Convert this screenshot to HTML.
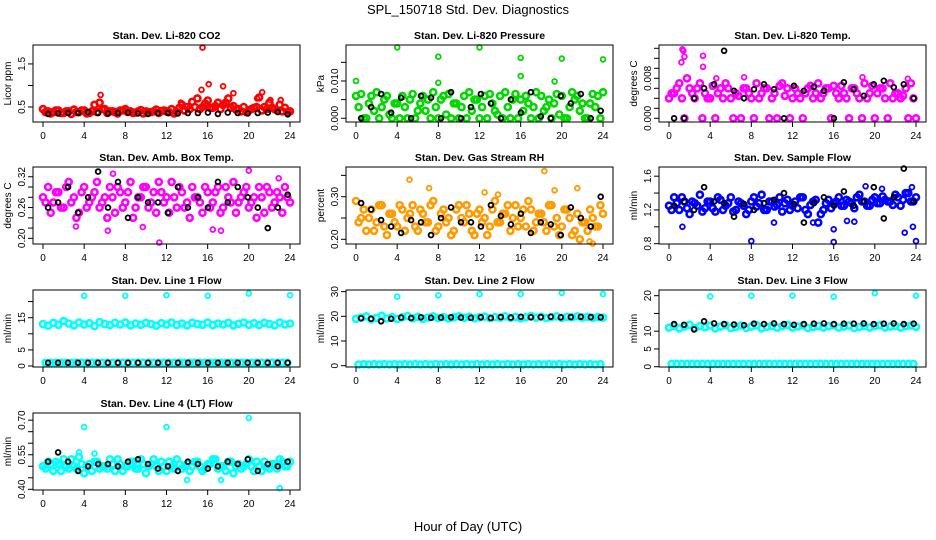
<!DOCTYPE html>
<html><head><meta charset="utf-8"><style>
body{margin:0;background:#fff}
svg{display:block;font-family:"Liberation Sans",sans-serif}
</style></head><body>
<svg id="c" width="936" height="540" viewBox="0 0 936 540">
<text x="468" y="14" text-anchor="middle" font-size="13">SPL_150718  Std. Dev. Diagnostics</text>
<text x="468" y="531" text-anchor="middle" font-size="13">Hour of Day (UTC)</text>
</svg>
<script>
const titles=["Stan. Dev. Li-820 CO2","Stan. Dev. Li-820 Pressure","Stan. Dev. Li-820 Temp.","Stan. Dev. Amb. Box Temp.","Stan. Dev. Gas Stream RH","Stan. Dev. Sample Flow","Stan. Dev. Line 1 Flow","Stan. Dev. Line 2 Flow","Stan. Dev. Line 3 Flow","Stan. Dev. Line 4 (LT) Flow"];
const yTitles=["Licor ppm","kPa","degrees C","degrees C","percent","ml/min","ml/min","ml/min","ml/min","ml/min"];
const colors=["#ff0000","#00d800","#ff00ff","#ff00ff","#ff9a00","#0000ff","#00ffff","#00ffff","#00ffff","#00ffff"];
const yDomains=[[0.151,1.94],[-0.001,0.01965],[-0.00074,0.01466],[0.189,0.339],[0.189,0.3697],[0.796,1.709],[-0.31,23.6],[-0.53,30.66],[-0.08,21.6],[0.397,0.7311]];
const yTicks=[[0.5,1.0,1.5],[0,0.005,0.01,0.015],[0,0.002,0.004,0.006,0.008,0.01,0.012,0.014],[0.20,0.22,0.24,0.26,0.28,0.30,0.32],[0.20,0.25,0.30,0.35],[0.8,1.0,1.2,1.4,1.6],[0,5,10,15,20],[0,10,20,30],[0,5,10,15,20],[0.40,0.45,0.50,0.55,0.60,0.65,0.70]];
const yTickLabels=[["0.5","","1.5"],["0.000","","0.010",""],["0.000","","","","0.008","","",""],["0.20","","","0.26","","","0.32"],["0.20","","0.30",""],["0.8","","1.2","","1.6"],["0","5","","15",""],["0","10","20","30"],["0","5","10","","20"],["0.40","","","0.55","","","0.70"]];
const xTicks=[0,4,8,12,16,20,24];
// main series (half-hourly, hour = i*0.5)
const mainA=[
[0.45,0.4,0.38,0.42,0.36,0.4,0.44,0.38,0.42,0.36,0.55,0.6,0.45,0.4,0.38,0.42,0.45,0.4,0.37,0.43,0.4,0.38,0.44,0.41,0.4,0.45,0.38,0.55,0.5,0.62,0.7,0.5,0.65,0.48,0.6,0.55,0.7,0.52,0.45,0.5,0.42,0.48,0.72,0.5,0.6,0.45,0.55,0.48,0.4],
[0.006,0.0065,0.0,0.006,0.007,0.003,0.006,0.0,0.004,0.006,0.0,0.0065,0.002,0.006,0.005,0.007,0.0,0.006,0.0065,0.004,0.0,0.006,0.007,0.005,0.0,0.006,0.0065,0.002,0.006,0.007,0.0,0.0065,0.005,0.006,0.0,0.007,0.006,0.003,0.0,0.0065,0.006,0.0,0.007,0.006,0.004,0.0,0.0065,0.006,0.007],
[0.004,0.005,0.007,0.0,0.006,0.004,0.007,0.005,0.004,0.0,0.006,0.007,0.004,0.005,0.0,0.006,0.004,0.007,0.005,0.006,0.004,0.0,0.007,0.006,0.004,0.005,0.0,0.006,0.004,0.007,0.005,0.006,0.0065,0.004,0.005,0.0,0.006,0.004,0.007,0.005,0.0,0.006,0.004,0.007,0.005,0.004,0.006,0.007,0.0],
[0.28,0.3,0.27,0.29,0.26,0.31,0.28,0.25,0.3,0.27,0.29,0.26,0.28,0.3,0.25,0.29,0.27,0.31,0.26,0.28,0.3,0.27,0.25,0.29,0.28,0.31,0.26,0.29,0.27,0.3,0.28,0.25,0.29,0.27,0.3,0.26,0.28,0.31,0.27,0.29,0.26,0.28,0.3,0.25,0.29,0.27,0.28,0.3,0.27],
[0.29,0.25,0.22,0.27,0.24,0.28,0.21,0.26,0.23,0.27,0.25,0.28,0.22,0.26,0.24,0.29,0.23,0.27,0.25,0.22,0.28,0.24,0.26,0.21,0.27,0.25,0.23,0.29,0.24,0.26,0.22,0.28,0.25,0.23,0.27,0.24,0.26,0.22,0.28,0.25,0.23,0.27,0.21,0.26,0.24,0.22,0.25,0.23,0.26],
[1.25,1.35,1.2,1.3,1.15,1.28,1.38,1.22,1.3,1.18,1.32,1.25,1.35,1.2,1.28,1.15,1.3,1.24,1.38,1.2,1.3,1.26,1.18,1.32,1.25,1.22,1.35,1.15,1.3,1.05,1.2,1.32,1.28,1.35,1.25,1.3,1.22,1.38,1.3,1.25,1.35,1.28,1.32,1.3,1.38,1.25,1.4,1.3,1.35],
[13,12.5,13.4,12.8,14,13.2,12.6,13.5,12.9,13.3,12.4,13.6,13,12.7,13.4,12.9,13.5,12.6,13.2,12.8,13.4,13,12.5,13.3,12.9,13.5,12.7,13.2,12.6,13.4,13,12.8,13.5,12.7,13.2,12.9,13.4,12.6,13.1,13.5,12.8,13.3,12.7,13.4,13,12.6,13.5,12.9,13.2],
[19,19.5,20,18.8,19.4,20.2,19.1,19.7,18.9,19.6,20.1,19.2,19.8,19,19.5,20,19.3,19.7,19.1,19.6,20,19.4,19.8,19.2,19.6,19.9,19.3,19.7,19.5,20,19.4,19.8,19.2,19.6,20.1,19.5,19.8,19.3,19.7,20,19.4,19.8,19.6,20,19.5,19.8,19.4,19.7,19.5],
[11,11.5,10.8,11.3,11.8,10.9,11.4,11.1,11.6,10.8,11.3,11.7,10.9,11.2,11.6,10.9,11.3,11.7,10.8,11.2,11.5,11,11.4,11.8,11,11.3,11.6,10.9,11.2,11.5,11,11.4,11.7,11,11.3,11.6,10.9,11.2,11.5,11,11.4,11.7,11,11.3,11.5,11,11.4,11.6,11.2],
[0.5,0.52,0.48,0.51,0.53,0.49,0.5,0.54,0.47,0.51,0.52,0.49,0.5,0.53,0.48,0.51,0.5,0.52,0.49,0.53,0.47,0.51,0.5,0.52,0.48,0.5,0.53,0.49,0.51,0.5,0.52,0.48,0.51,0.53,0.49,0.5,0.52,0.47,0.51,0.5,0.53,0.48,0.5,0.52,0.49,0.51,0.53,0.5,0.52]];
// second main series (hour = 0.25 + i*0.5)
const mainB=[
[0.38,0.35,0.42,0.36,0.4,0.34,0.38,0.42,0.35,0.4,0.38,0.45,0.36,0.4,0.35,0.42,0.38,0.36,0.4,0.35,0.38,0.4,0.36,0.42,0.38,0.35,0.48,0.42,0.45,0.5,0.45,0.58,0.48,0.52,0.45,0.6,0.48,0.44,0.4,0.38,0.45,0.5,0.42,0.45,0.48,0.42,0.4,0.38],
[0.003,0.0,0.004,0.002,0.0,0.005,0.001,0.004,0.0,0.003,0.005,0.0,0.004,0.002,0.0,0.003,0.005,0.001,0.0,0.004,0.003,0.0,0.002,0.005,0.003,0.0,0.004,0.001,0.0,0.003,0.005,0.0,0.002,0.004,0.003,0.0,0.002,0.005,0.004,0.001,0.0,0.003,0.005,0.002,0.0,0.004,0.003,0.0],
[0.005,0.006,0.004,0.008,0.005,0.006,0.0,0.004,0.0065,0.005,0.004,0.006,0.0,0.0045,0.006,0.005,0.0,0.004,0.006,0.0,0.005,0.0065,0.0045,0.0,0.006,0.004,0.005,0.0065,0.005,0.004,0.006,0.0,0.005,0.0065,0.004,0.006,0.005,0.0,0.004,0.0065,0.005,0.006,0.0,0.004,0.005,0.0045,0.0,0.004],
[0.27,0.25,0.29,0.26,0.3,0.27,0.24,0.29,0.26,0.28,0.31,0.27,0.24,0.28,0.3,0.26,0.29,0.24,0.28,0.3,0.26,0.29,0.31,0.27,0.25,0.28,0.3,0.26,0.24,0.28,0.27,0.3,0.26,0.29,0.25,0.3,0.27,0.25,0.28,0.3,0.27,0.24,0.28,0.3,0.26,0.29,0.25,0.28],
[0.24,0.27,0.25,0.22,0.28,0.23,0.26,0.24,0.28,0.22,0.26,0.23,0.27,0.24,0.28,0.22,0.26,0.24,0.21,0.27,0.25,0.28,0.22,0.26,0.24,0.21,0.27,0.24,0.26,0.28,0.25,0.23,0.27,0.29,0.22,0.26,0.24,0.28,0.23,0.21,0.27,0.25,0.22,0.2,0.24,0.27,0.23,0.28],
[1.2,1.28,1.35,1.22,1.3,1.25,1.18,1.3,1.22,1.35,1.2,1.28,1.18,1.3,1.25,1.2,1.35,1.28,1.2,1.3,1.24,1.35,1.28,1.2,1.3,1.35,1.2,1.26,1.32,1.15,1.28,1.22,1.3,1.25,1.32,1.28,1.35,1.3,1.25,1.32,1.28,1.36,1.3,1.26,1.35,1.32,1.4,1.3],
[1,1,1,1,1,1,1,1,1,1,1,1,1,1,1,1,1,1,1,1,1,1,1,1,1,1,1,1,1,1,1,1,1,1,1,1,1,1,1,1,1,1,1,1,1,1,1,1],
[0.5,0.6,0.5,0.6,0.5,0.6,0.5,0.6,0.5,0.6,0.5,0.6,0.5,0.6,0.5,0.6,0.5,0.6,0.5,0.6,0.5,0.6,0.5,0.6,0.5,0.6,0.5,0.6,0.5,0.6,0.5,0.6,0.5,0.6,0.5,0.6,0.5,0.6,0.5,0.6,0.5,0.6,0.5,0.6,0.5,0.6,0.5,0.6],
[0.8,0.8,0.8,0.8,0.8,0.8,0.8,0.8,0.8,0.8,0.8,0.8,0.8,0.8,0.8,0.8,0.8,0.8,0.8,0.8,0.8,0.8,0.8,0.8,0.8,0.8,0.8,0.8,0.8,0.8,0.8,0.8,0.8,0.8,0.8,0.8,0.8,0.8,0.8,0.8,0.8,0.8,0.8,0.8,0.8,0.8,0.8,0.8],
[0.49,0.51,0.52,0.48,0.5,0.53,0.49,0.51,0.5,0.48,0.52,0.5,0.49,0.51,0.53,0.48,0.5,0.52,0.49,0.51,0.5,0.53,0.48,0.5,0.52,0.49,0.51,0.5,0.48,0.52,0.5,0.49,0.51,0.53,0.5,0.48,0.52,0.5,0.49,0.51,0.5,0.52,0.48,0.5,0.51,0.49,0.52,0.5]];
// black series (hourly, hour = 0.5 + i*0.97)
const blackS=[
[0.34,0.35,0.36,0.36,0.38,0.36,0.35,0.36,0.37,0.35,0.34,0.36,0.36,0.35,0.36,0.36,0.37,0.34,0.37,0.36,0.35,0.36,0.37,0.38,0.33],
[0.0,0.003,0.0065,0.0015,0.0055,0.0,0.006,0.0055,0.0,0.007,0.0,0.003,0.0065,0.004,0.0,0.005,0.0015,0.007,0.0005,0.0,0.006,0.004,0.0065,0.0,0.002],
[0.0,0.0,0.004,0.006,0.0068,0.0135,0.0055,0.004,0.0058,0.0068,0.0058,0.0,0.0065,0.0055,0.0063,0.0055,0.0,0.0072,0.0058,0.0045,0.0068,0.0075,0.0062,0.0068,0.004],
[0.26,0.27,0.3,0.25,0.28,0.33,0.26,0.31,0.24,0.28,0.27,0.27,0.25,0.3,0.26,0.28,0.26,0.31,0.27,0.3,0.28,0.26,0.22,0.26,0.285],
[0.285,0.27,0.245,0.23,0.215,0.245,0.24,0.21,0.25,0.275,0.24,0.24,0.23,0.28,0.255,0.235,0.26,0.215,0.24,0.235,0.21,0.275,0.25,0.23,0.3],
[1.25,1.3,1.2,1.47,1.3,1.28,1.12,1.27,1.2,1.28,1.32,1.4,1.27,1.05,1.28,1.35,1.25,1.42,1.25,1.3,1.47,1.1,1.35,1.69,1.3],
[1,1,1,1,1,1,1,1,1,1,1,1,1,1,1,1,1,1,1,1,1,1,1,1,1],
[19.2,19,18,19,19.5,19.3,19.6,19.4,19.5,19.6,19.5,19.4,19.6,19.3,19.7,19.5,19.8,19.6,19.7,19.8,19.6,19.7,19.8,19.7,19.6],
[12,11.8,10.5,12.8,12.2,12,11.9,11.7,12.1,12,12.2,12,11.8,12,12.1,12.2,12,12.1,12.1,12.2,12,12.1,12.2,12,12.1],
[0.52,0.56,0.52,0.48,0.5,0.51,0.51,0.5,0.52,0.53,0.51,0.49,0.5,0.48,0.52,0.51,0.49,0.5,0.52,0.51,0.53,0.48,0.51,0.5,0.52]];
const outX=[[15.5,16.1,17.5,18.5,21.3,5.6,15.4,23.1,22.1,13.4,20.8],[0,4,8,8,12,16,16,19.3,20,24],[1.3,1.4,1.2,1.5,3.3,3.3,7.3,4.6,18.8,23.2],[6.8,11.3,20,22.9,6.3,3.2,9.7,16.5,17.3],[5.2,7.1,18.3,12.5,13.8,21.5,22.7,23,19.3],[8,16,24,1.3,10.2,14,17.3,18,19.1,22.9,23.6,23.7,16,20.7],[4,8,12,16,20,24],[4,8,12,16,20,24],[4,8,12,16,20,24],[4,12,20,3.5,14,17.3,23,5]];
const outY=[[1.88,1.03,0.98,0.82,0.84,0.78,0.9,0.66,0.66,0.6,0.7],[0.01,0.019,0.0165,0.0095,0.019,0.0162,0.0113,0.0099,0.016,0.0158],[0.0138,0.0135,0.0112,0.0123,0.0125,0.0103,0.0082,0.008,0.0082,0.0079],[0.326,0.192,0.332,0.317,0.215,0.223,0.222,0.217,0.215],[0.34,0.32,0.36,0.31,0.305,0.32,0.195,0.19,0.315],[0.83,0.82,0.83,1.0,1.05,1.05,1.07,1.06,1.48,0.93,1.47,1.0,0.97,1.45],[21.8,21.8,22,21.8,22.5,22],[28,28.5,29,29,29.5,29],[19.8,20,20,19.7,20.7,20],[0.67,0.67,0.71,0.56,0.44,0.44,0.405,0.555]];

const NS="http://www.w3.org/2000/svg";
const svg=document.getElementById('c');
const rowTops=[45,167,290,413];
function mk(tag,attrs,parent){const e=document.createElementNS(NS,tag);for(const k in attrs)e.setAttribute(k,attrs[k]);parent.appendChild(e);return e;}
for(let p=0;p<10;p++){
  const c=p%3,r=Math.floor(p/3);
  const x0=43+313*c, top=rowTops[r], bot=top+77, left=x0-10, right=x0+257;
  const xs=h=>x0+h*247/24;
  const [d0,d1]=yDomains[p];
  const ys=v=>bot-(v-d0)/(d1-d0)*77;
  const g=mk('g',{},svg);
  
  
  const t=mk('text',{x:(left+right)/2,y:top-6,'text-anchor':'middle','font-size':'10.5','font-weight':'bold'},g);
  t.textContent=titles[p];
  
  
  const yt=mk('text',{x:0,y:0,'text-anchor':'middle','font-size':'10',transform:`translate(${left-22},${(top+bot)/2}) rotate(-90)`},g);
  yt.textContent=yTitles[p];
  
  
  const pts=mk('g',{fill:'none'},g);
  
  
  const dot=(h,v,col,rad,sw)=>{const e=mk('circle',{cx:xs(h).toFixed(1),cy:ys(v).toFixed(1),r:rad,stroke:col,'stroke-width':sw},pts);
    
    };
  mainA[p].forEach((v,i)=>dot(i*0.5,v,colors[p],'3','2.6'));
  mainB[p].forEach((v,i)=>dot(0.25+i*0.5,v,colors[p],'3','2.6'));
  outX[p].forEach((h,i)=>dot(h,outY[p][i],colors[p],'2.4','1.8'));
  blackS[p].forEach((v,i)=>dot(0.5+i*0.97,v,'#000','2.4','1.8'));
  const b=mk('rect',{x:left,y:top,width:right-left,height:77,fill:'none',stroke:'#000','stroke-width':'1'},g);
  
  
  xTicks.forEach(h=>{
    mk('line',{x1:xs(h),x2:xs(h),y1:bot,y2:bot+5,stroke:'#000'},g);
    const l=mk('text',{x:xs(h),y:bot+17,'text-anchor':'middle','font-size':'10'},g);
    l.textContent=h;
    
    
  });
  yTicks[p].forEach((v,i)=>{
    mk('line',{x1:left-5,x2:left,y1:ys(v),y2:ys(v),stroke:'#000'},g);
    const s=yTickLabels[p][i];
    if(s){const l=mk('text',{x:0,y:0,'text-anchor':'middle','font-size':'10',transform:`translate(${left-8},${ys(v)}) rotate(-90)`},g);
      l.textContent=s;
      
      }
  });
}
</script>
</body></html>
